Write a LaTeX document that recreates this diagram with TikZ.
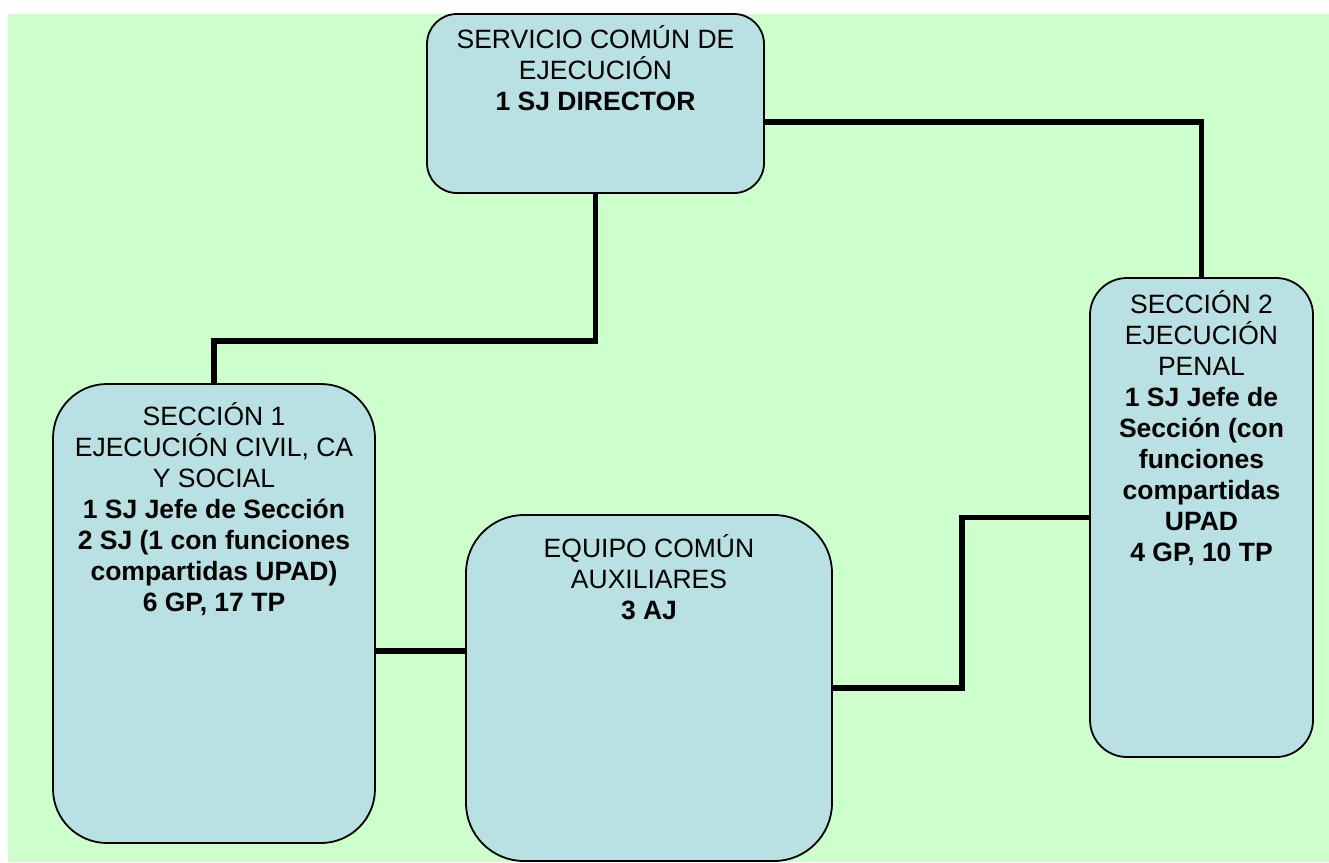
\documentclass[tikz,border=0pt]{standalone}
\usepackage{fontspec}
\setmainfont{Liberation Sans}
\usetikzlibrary{calc}
\definecolor{bggreen}{HTML}{CCFFCC}
\definecolor{boxblue}{HTML}{B9E0E3}
\begin{document}
\begin{tikzpicture}[x=1pt,y=-1pt,
  orgbox/.style={draw=black,line width=1.8pt,fill=boxblue,rectangle,inner sep=0pt,outer sep=0pt},
  boxtext/.style={align=center,anchor=base,inner sep=0pt,font=\fontsize{26.5}{31}\selectfont},
  conn/.style={line width=5.5pt}]
\useasboundingbox (0,0) rectangle (1329,862);
\fill[white] (0,0) rectangle (1329,862);
\fill[bggreen] (8,14) rectangle (1329,862);
\node[orgbox,minimum width=337pt,minimum height=179pt,rounded corners=30pt] (top) at (595.5,103.5) {};
\node[orgbox,minimum width=322pt,minimum height=459pt,rounded corners=54pt] (sec1) at (214,613.5) {};
\node[orgbox,minimum width=223pt,minimum height=479pt,rounded corners=37pt] (sec2) at (1201.5,517.5) {};
\node[orgbox,minimum width=366pt,minimum height=346pt,rounded corners=58pt] (eq) at (649,688) {};
\node[boxtext] (ttop) at (595.5,110) {SERVICIO COMÚN DE\\EJECUCIÓN\\\textbf{1 SJ DIRECTOR}};
\node[boxtext] (tsec1) at (214,611) {SECCIÓN 1\\EJECUCIÓN CIVIL, CA\\Y SOCIAL\\\textbf{1 SJ Jefe de Sección}\\\textbf{2 SJ (1 con funciones}\\\textbf{compartidas UPAD)}\\\textbf{6 GP, 17 TP}};
\node[boxtext] (tsec2) at (1201.5,561) {SECCIÓN 2\\EJECUCIÓN\\PENAL\\\textbf{1 SJ Jefe de}\\\textbf{Sección (con}\\\textbf{funciones}\\\textbf{compartidas}\\\textbf{UPAD}\\\textbf{4 GP, 10 TP}};
\node[boxtext] (teq) at (649,619) {EQUIPO COMÚN\\AUXILIARES\\\textbf{3 AJ}};
\draw[conn] (top.south) -- ++(0,148) -| (sec1.north);
\draw[conn] ($(top.east)+(0,18.5)$) -| (sec2.north);
\draw[conn] ($(sec1.east)+(0,37.5)$) -- ($(eq.west)+(0,-37)$);
\draw[conn] (eq.east) -| ($(sec2.west)+(-128,0)$) -- (sec2.west);
\end{tikzpicture}
\end{document}
